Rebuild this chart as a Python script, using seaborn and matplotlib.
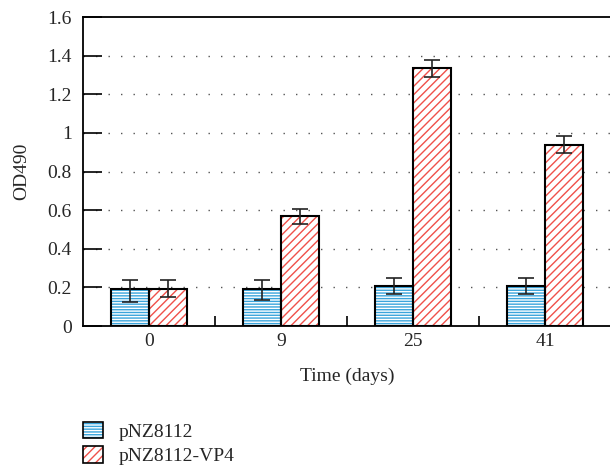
import matplotlib
matplotlib.use("Agg")
from matplotlib import pyplot as plt
from matplotlib.patches import Rectangle
import seaborn as sns
import pandas as pd
import numpy as np

# data
days = ["0", "9", "25", "41"]
series = ["pNZ8112", "pNZ8112-VP4"]
od_ctrl = [0.19, 0.19, 0.21, 0.21]
od_vp4 = [0.19, 0.57, 1.335, 0.94]
err_ctrl_lo = [0.065, 0.055, 0.046, 0.046]
err_ctrl_hi = [0.05, 0.05, 0.04, 0.04]
err_vp4_lo = [0.04, 0.04, 0.045, 0.045]
err_vp4_hi = [0.05, 0.037, 0.045, 0.045]

hatch_colors = ["#3aa5dc", "#f0504a"]
hatches = ["------", "////"]

sns.set_style("white")
plt.rcParams["font.family"] = ["Liberation Serif", "DejaVu Serif"]
plt.rcParams["hatch.linewidth"] = 1.0

df = pd.DataFrame({
    "day": days * 2,
    "series": [series[0]] * 4 + [series[1]] * 4,
    "od": od_ctrl + od_vp4,
})

fig = plt.figure(figsize=(6.1, 4.74), dpi=100)
ax = fig.add_axes([0.136, 0.312, 0.866, 0.652])

sns.barplot(data=df, x="day", y="od", hue="series", order=days,
            hue_order=series, errorbar=None, width=0.58, ax=ax,
            legend=False)

errs = [(err_ctrl_lo, err_ctrl_hi), (err_vp4_lo, err_vp4_hi)]
vals = [od_ctrl, od_vp4]
bar_conts = list(ax.containers)
for k, cont in enumerate(bar_conts):
    xs = []
    for p in cont.patches:
        # hatch layer: edge colour drives the hatch colour
        p.set_facecolor("white")
        p.set_edgecolor(hatch_colors[k])
        p.set_hatch(hatches[k])
        p.set_linewidth(0)
        # black outline on top
        ax.add_patch(Rectangle(p.get_xy(), p.get_width(), p.get_height(),
                               fill=False, edgecolor="black", linewidth=1.5,
                               zorder=3))
        xs.append(p.get_x() + p.get_width() / 2)
    ax.errorbar(xs, vals[k], yerr=[errs[k][0], errs[k][1]], fmt="none",
                ecolor="#222222", elinewidth=1.2, capsize=6, capthick=1.2,
                zorder=4)

ax.set_xlim(-0.5, 3.5)
ax.set_ylim(0, 1.6)
ax.set_yticks(np.arange(0, 1.61, 0.2))
ax.set_yticklabels(["0", "0.2", "0.4", "0.6", "0.8", "1", "1.2", "1.4", "1.6"])
ax.set_xticks([0, 1, 2, 3])
ax.set_xticks([0.5, 1.5, 2.5], minor=True)
ax.tick_params(axis="x", which="major", length=0, labelsize=14, pad=5)
ax.tick_params(axis="x", which="minor", direction="in", length=7, width=1.2,
               color="black", bottom=True)
ax.tick_params(axis="y", direction="in", length=14, width=1.2, labelsize=14,
               color="black", left=True, pad=8)
for y in np.arange(0.2, 1.41, 0.2):
    ax.axhline(y, color="#555555", linestyle=(0, (1, 8)), linewidth=1,
               zorder=0)

for s in ["left", "top", "bottom", "right"]:
    ax.spines[s].set_color("black")
    ax.spines[s].set_linewidth(1.3)

ax.set_xlabel("Time (days)", fontsize=14, labelpad=13)
ax.set_ylabel("OD490", fontsize=14, labelpad=12)

# legend below the plot
handles = [Rectangle((0, 0), 1, 1, facecolor="white", edgecolor=hatch_colors[k],
                     hatch=hatches[k], linewidth=0) for k in range(2)]
outlines = [Rectangle((0, 0), 1, 1, fill=False, edgecolor="black",
                      linewidth=1.2) for k in range(2)]
fig.legend(handles=[(h, o) for h, o in zip(handles, outlines)], labels=series,
           loc="upper left", bbox_to_anchor=(0.136, 0.11), frameon=False,
           borderpad=0, borderaxespad=0,
           fontsize=14, handlelength=1.05, handleheight=0.9, labelspacing=0.3,
           handletextpad=0.8)

fig.savefig("out.png", dpi=100)
